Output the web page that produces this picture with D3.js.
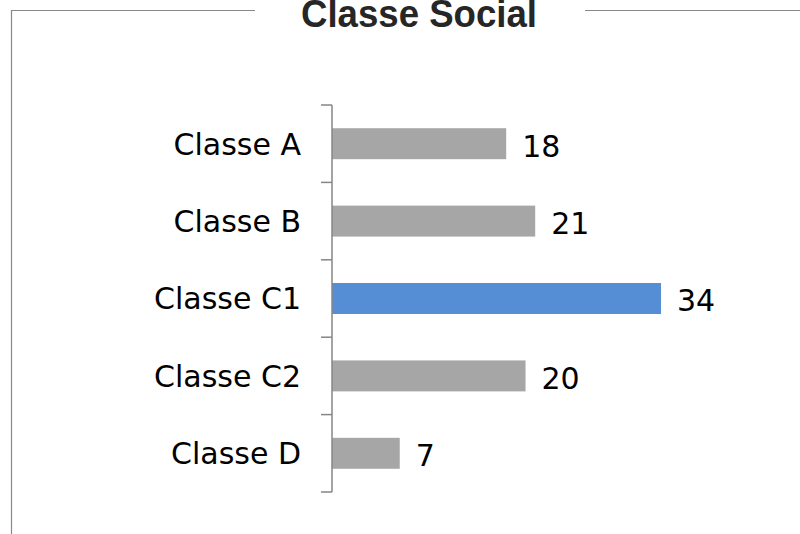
<!DOCTYPE html>
<html lang="pt">
<head>
<meta charset="UTF-8">
<title>Classe Social</title>
<script src="https://d3js.org/d3.v7.min.js"></script>
<style>
    body { margin: 0; background: #fff; }
    svg { display: block; }
    .label { font-family: "DejaVu Sans", sans-serif; font-size: 30px; fill: #000; }
    .title { font-family: "Liberation Sans", Arial, sans-serif; font-size: 38px; font-weight: bold; fill: #262626; }
</style>
</head>
<body>
<div id="chart"></div>
<script>
    // data
    const categories = ["Classe A", "Classe B", "Classe C1", "Classe C2", "Classe D"];
    const values = [18, 21, 34, 20, 7];
    const highlight = "Classe C1";

    const width = 800, height = 534;

    const svg = d3.select("#chart").append("svg")
        .attr("width", width)
        .attr("height", height);

    // frame lines around the chart (top line broken by the title)
    svg.append("path")
        .attr("d", "M11.5,534 V10.5 H255 M585,10.5 H800")
        .attr("fill", "none")
        .attr("stroke", "#888")
        .attr("stroke-width", 1.2);

    // title sits partly above the visible area, as in the original
    svg.append("text")
        .attr("class", "title")
        .attr("x", 301)
        .attr("y", 27)
        .attr("textLength", 236)
        .attr("lengthAdjust", "spacingAndGlyphs")
        .text("Classe Social");

    const x = d3.scaleLinear().domain([0, 34]).range([332, 661]);
    const y = d3.scaleBand().domain(categories).range([105, 492]).paddingInner(0.6).paddingOuter(0.3);

    // bars
    svg.selectAll("rect.bar")
        .data(categories)
        .join("rect")
        .attr("class", "bar")
        .attr("x", x(0))
        .attr("y", d => y(d))
        .attr("width", (d, i) => x(values[i]) - x(0))
        .attr("height", y.bandwidth())
        .attr("fill", d => d === highlight ? "#558ed5" : "#a6a6a6");

    // axis with ticks between categories
    const tickYs = d3.range(categories.length + 1).map(i => 105 + i * (492 - 105) / categories.length);
    svg.append("line")
        .attr("x1", x(0)).attr("x2", x(0))
        .attr("y1", 105).attr("y2", 492)
        .attr("stroke", "#868686").attr("stroke-width", 1.5);
    svg.selectAll("line.tick")
        .data(tickYs)
        .join("line")
        .attr("class", "tick")
        .attr("x1", x(0) - 11).attr("x2", x(0))
        .attr("y1", d => d).attr("y2", d => d)
        .attr("stroke", "#868686").attr("stroke-width", 1.5);

    // category labels
    svg.selectAll("text.cat")
        .data(categories)
        .join("text")
        .attr("class", "label cat")
        .attr("x", 301)
        .attr("y", d => y(d) + y.bandwidth() / 2)
        .attr("dy", "0.36em")
        .attr("text-anchor", "end")
        .text(d => d);

    // value labels
    svg.selectAll("text.val")
        .data(values)
        .join("text")
        .attr("class", "label val")
        .attr("x", d => x(d) + 16)
        .attr("y", (d, i) => y(categories[i]) + y.bandwidth() / 2 + 2)
        .attr("dy", "0.36em")
        .text(d => d);
</script>
</body>
</html>
